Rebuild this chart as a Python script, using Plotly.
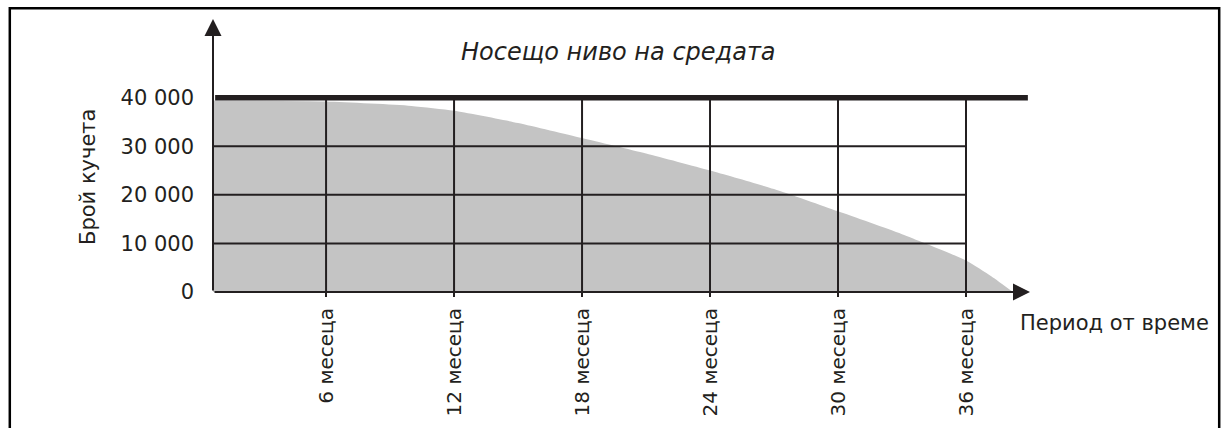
import plotly.graph_objects as go

# ---- data ----
months = [0.7, 6, 10, 12, 15, 18, 21, 24, 27, 30, 33, 36, 37.2, 38.2]
puppies = [39400, 39200, 38300, 37300, 34800, 31700, 28500, 25000, 21200,
           16600, 11900, 6500, 3200, 0]

x_ticks = [6, 12, 18, 24, 30, 36]
x_labels = ["6 месеца", "12 месеца", "18 месеца", "24 месеца", "30 месеца", "36 месеца"]
y_ticks = [0, 10000, 20000, 30000, 40000]
y_labels = ["0", "10 000", "20 000", "30 000", "40 000"]
grid_levels = [10000, 20000, 30000]

carrying_capacity = 40000
capacity_end = 38.9
x_start = 0.7
x_end = 39.0
y_top = 56200

title_text = "Носещо ниво на средата"
y_title = "Брой кучета"
x_title = "Период от време"

INK = "#231f20"
FILL = "#c4c4c4"
FONT = "DejaVu Sans, Liberation Sans, Arial, sans-serif"

W, H = 1222, 428
AX_L, AX_R, AX_T, AX_B = 213, 1030, 19, 292
ML, MR, MT, MB = AX_L, W - AX_R, AX_T, H - AX_B
PW, PH = AX_R - AX_L, AX_B - AX_T


def px_x(p):
    return (p - AX_L) / PW


def px_y(p):
    return (AX_B - p) / PH


fig = go.Figure()
fig.add_trace(go.Scatter(
    x=months, y=puppies, mode="lines",
    line=dict(width=0, shape="spline", smoothing=0.6, color=FILL),
    fill="tozeroy", fillcolor=FILL, hoverinfo="skip", showlegend=False))

shapes = []
for v in grid_levels:
    shapes.append(dict(type="line", xref="x", yref="y", x0=x_start, x1=x_ticks[-1], y0=v, y1=v,
                       line=dict(color=INK, width=2), layer="above"))
for m in x_ticks:
    shapes.append(dict(type="line", xref="x", yref="y", x0=m, x1=m, y0=0, y1=carrying_capacity,
                       line=dict(color=INK, width=2), layer="above"))
shapes.append(dict(type="line", xref="x", yref="y", x0=x_start + 0.1, x1=capacity_end,
                   y0=carrying_capacity, y1=carrying_capacity,
                   line=dict(color=INK, width=5.5), layer="above"))
# outer frame (bottom edge lies outside the window)
bl, br, bt, bb = px_x(9.8), px_x(1219.2), px_y(8.3), px_y(H + 5)
shapes.append(dict(type="path", xref="paper", yref="paper",
                   path=f"M{bl},{bb} L{bl},{bt} L{br},{bt} L{br},{bb}",
                   line=dict(color="black", width=2.5), layer="above"))

annotations = [
    dict(xref="paper", yref="paper", x=0, y=1, ax=0, ay=PH, axref="pixel", ayref="pixel",
         showarrow=True, arrowhead=2, arrowsize=1.7, arrowwidth=2, arrowcolor=INK, text=""),
    dict(xref="paper", yref="paper", x=1, y=0, ax=-PW, ay=0, axref="pixel", ayref="pixel",
         showarrow=True, arrowhead=2, arrowsize=1.7, arrowwidth=2, arrowcolor=INK, text=""),
    dict(xref="paper", yref="paper", x=px_x(618), y=px_y(52), text=title_text,
         showarrow=False, xanchor="center", yanchor="middle",
         font=dict(family="DejaVu Sans", size=24, color=INK, style="italic")),
    dict(xref="paper", yref="paper", x=px_x(88), y=px_y(177), text=y_title, textangle=-90,
         showarrow=False, xanchor="center", yanchor="middle",
         font=dict(family=FONT, size=21, color=INK)),
    dict(xref="paper", yref="paper", x=px_x(1018), y=px_y(323), text=x_title,
         showarrow=False, xanchor="left", yanchor="middle",
         font=dict(family=FONT, size=21, color=INK)),
]

fig.update_layout(
    width=W, height=H,
    margin=dict(l=ML, r=MR, t=MT, b=MB, autoexpand=False),
    paper_bgcolor="white", plot_bgcolor="white",
    shapes=shapes, annotations=annotations,
    xaxis=dict(range=[x_start, x_end], tickvals=x_ticks, ticktext=x_labels, tickangle=-90,
               ticks="outside", ticklen=4, tickwidth=2, tickcolor=INK, automargin=False,
               showgrid=False, zeroline=False, showline=False, ticklabelstandoff=3,
               tickfont=dict(family=FONT, size=20, color=INK), fixedrange=True),
    yaxis=dict(range=[0, y_top], tickvals=y_ticks, ticktext=y_labels, ticks="",
               automargin=False,
               showgrid=False, zeroline=False, showline=False, ticklabelstandoff=18,
               tickfont=dict(family=FONT, size=21, color=INK), fixedrange=True),
    showlegend=False,
)

fig.write_html(
    "out.html",
    config={"displayModeBar": False, "staticPlot": True},
    post_script="document.body.style.margin='0';document.body.style.overflow='hidden';",
)
